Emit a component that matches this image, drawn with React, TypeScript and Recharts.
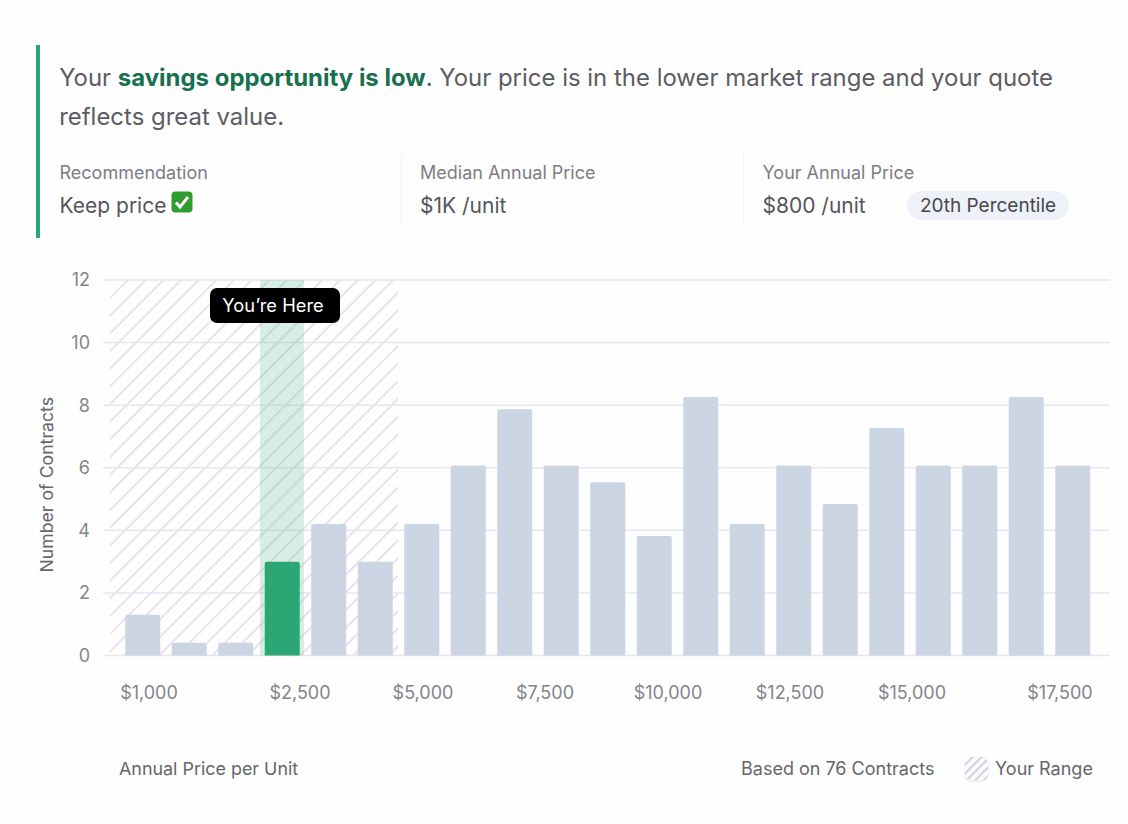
import React from 'react';
import { ComposedChart, Bar, Cell, XAxis, YAxis, CartesianGrid, ReferenceArea } from 'recharts';

const binNames = ['b1','b2','b3','b4','b5','b6','b7','b8','b9','b10','b11','b12','b13','b14','b15','b16','b17','b18','b19','b20','b21'];
const contracts = [1.3,0.41,0.41,3.0,4.2,3.0,4.2,6.07,7.87,6.07,5.54,3.82,8.26,4.2,6.07,4.84,7.27,6.07,6.07,8.26,6.07];
const highlightIndex = 3;
const yTicks = [0,2,4,6,8,10,12];
const priceLabels = ['$1,000','$2,500','$5,000','$7,500','$10,000','$12,500','$15,000','$17,500'];
const priceTickPositions = [0.989,4.237,6.882,9.505,12.15,14.774,17.398,20.58];
const priceDomain: [number, number] = [0,21.656];
const rangeSpan = [0.15,6.344];
const hereSpan = [3.376,4.32];

const chartData = binNames.map((name,i)=>({name,contracts:contracts[i]}));
const FONT = 'Inter, sans-serif';

function Metric({left,label,value}:{left:number;label:string;value:React.ReactNode}) {
  return <>
    <div style={{position:'absolute',left,top:161,fontSize:18,lineHeight:'24px',color:'#7d7d84'}}>{label}</div>
    <div style={{position:'absolute',left,top:191,fontSize:21,lineHeight:'29px',color:'#55555b',whiteSpace:'nowrap'}}>{value}</div>
  </>;
}

const YTitle = ({viewBox}:any) => {
  const cy = viewBox.y + viewBox.height/2 + 17;
  return <text x={53} y={cy} transform={`rotate(-90 53 ${cy})`} textAnchor="middle" fill="#66666c" fontSize={17.7}>Number of Contracts</text>;
};

export default function App() {
  return (
    <div style={{position:'absolute',left:0,top:0,width:1128,height:824,background:'#fefefe',fontFamily:FONT,overflow:'hidden'}}>
      <div style={{position:'absolute',left:36,top:45,width:4,height:193,background:'#2aa775'}}/>
      <div style={{position:'absolute',left:59.2,top:58,width:1020,fontSize:23.95,lineHeight:'39px',color:'#5c5c62'}}>
        Your <b style={{color:'#17704f',fontWeight:700}}>savings opportunity is low</b>. Your price is in the lower market range and your quote reflects great value.
      </div>
      <Metric left={59.5} label="Recommendation" value={<>Keep price <svg width="22" height="22" viewBox="0 0 22 22" style={{verticalAlign:'0px',marginLeft:-1}}><rect x="0.5" y="0.5" width="21" height="21" rx="4" fill="#2f9e2f"/><path d="M5 11.5l4 4.5l8-10" fill="none" stroke="#fff" strokeWidth="3"/></svg></>}/>
      <Metric left={420} label="Median Annual Price" value="$1K /unit"/>
      <Metric left={762.5} label="Your Annual Price" value="$800 /unit"/>
      <div style={{position:'absolute',left:401,top:153,width:1,height:72,background:'#f3f3f5'}}/>
      <div style={{position:'absolute',left:743,top:153,width:1,height:72,background:'#f3f3f5'}}/>
      <div style={{position:'absolute',left:907,top:191,width:162,height:29,borderRadius:15,background:'#eef1f8',color:'#46464c',fontSize:19,lineHeight:'29px',textAlign:'center'}}>20th Percentile</div>

      <div style={{position:'absolute',left:0,top:0}}>
        <ComposedChart width={1128} height={824} data={chartData} barCategoryGap="12.9%" margin={{top:280,right:18,bottom:33.5,left:0}} style={{fontFamily:FONT}}>
          <defs>
            <pattern id="hatch" width="12.5" height="12.5" patternUnits="userSpaceOnUse" patternTransform="rotate(45)">
              <rect x="0" width="2" height="12.5" fill="#e8e3ea"/>
            </pattern>
          </defs>
          <CartesianGrid horizontal vertical={false} stroke="#e6e6f2" strokeWidth={1.5}/>
          <ReferenceArea xAxisId="price" x1={rangeSpan[0]} x2={rangeSpan[1]} y1={0} y2={12} fill="url(#hatch)" stroke="none" fillOpacity={1}/>
          <ReferenceArea xAxisId="price" x1={hereSpan[0]} x2={hereSpan[1]} y1={0} y2={12} fill="#2aa775" stroke="none" fillOpacity={0.18}/>
          <XAxis xAxisId="bins" dataKey="name" type="category" hide padding={{left:16.25,right:14.25}} height={0}/>
          <XAxis xAxisId="price" dataKey="contracts" type="number" domain={priceDomain} ticks={priceTickPositions} interval={0} allowDataOverflow
            tickFormatter={(_v:number,i:number)=>priceLabels[i]} axisLine={false} tickLine={false} height={135} tickMargin={25}
            tick={{fill:'#84848c',fontSize:18}}
            label={{value:'Annual Price per Unit',position:'insideBottomLeft',offset:16,fill:'#66666c',fontSize:17.9}}/>
          <YAxis domain={[0,12]} ticks={yTicks} width={103} axisLine={false} tickLine={false} tickMargin={7} tick={{fill:'#84848c',fontSize:18,dy:0}}
            label={<YTitle/>}/>
          <Bar xAxisId="bins" dataKey="contracts" fill="#ccd5e3" radius={[2,2,0,0]} isAnimationActive={false}>
            {chartData.map((d,i)=><Cell key={d.name} fill={i===highlightIndex?'#2aa775':'#ccd5e3'}/>)}
          </Bar>
        </ComposedChart>
      </div>

      <div style={{position:'absolute',left:209.5,top:288,width:130,height:35,borderRadius:7,background:'#000',color:'#fff',fontSize:18.3,lineHeight:'35px',textAlign:'center',paddingRight:3,boxSizing:'border-box'}}>You’re Here</div>

      <div style={{position:'absolute',left:741,top:757,fontSize:18,lineHeight:'24px',color:'#66666c'}}>Based on 76 Contracts</div>
      <svg width="26" height="26" style={{position:'absolute',left:964,top:756,filter:'drop-shadow(0 1px 1px rgba(0,0,0,0.12))'}}>
        <defs>
          <pattern id="hatch2" width="6" height="6" patternUnits="userSpaceOnUse" patternTransform="rotate(45)">
            <rect width="6" height="6" fill="#fbfafc"/>
            <rect width="2" height="6" fill="#d6d0da"/>
          </pattern>
        </defs>
        <rect x="1" y="1" width="23" height="23" rx="6" fill="url(#hatch2)"/>
      </svg>
      <div style={{position:'absolute',left:995,top:757,fontSize:18,lineHeight:'24px',color:'#66666c'}}>Your Range</div>
    </div>
  );
}
